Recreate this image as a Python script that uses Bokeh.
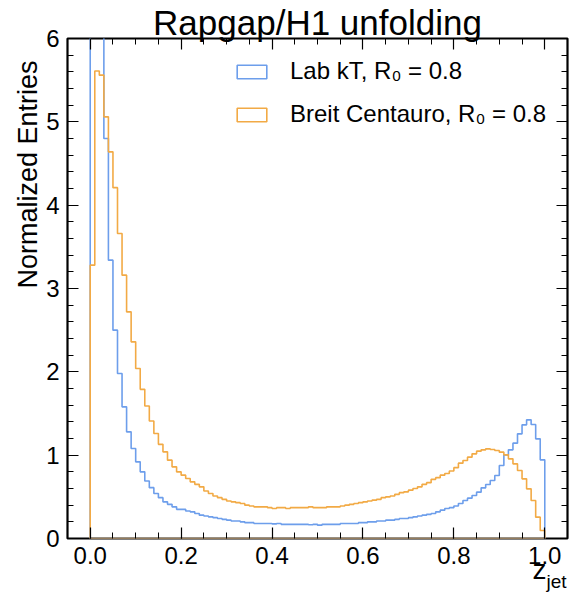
import numpy as np
from bokeh.plotting import figure
from bokeh.models import (Range1d, LinearAxis, SingleIntervalTicker, NumeralTickFormatter,
                          CustomJSTickFormatter, Legend, LegendItem, Title)
from bokeh.embed import file_html
from bokeh.resources import INLINE

# ---- data ----
bin_lo, bin_hi, n_bins = 0.0, 1.0, 100

lab_kt = [9.0, 8.0, 7.0, 4.80, 3.34, 2.50, 1.98, 1.58, 1.28, 1.08,
          0.92, 0.80, 0.69, 0.61, 0.54, 0.49, 0.44, 0.41, 0.38, 0.35,
          0.35, 0.33, 0.32, 0.30, 0.28, 0.27, 0.26, 0.25, 0.24, 0.23,
          0.22, 0.21, 0.21, 0.20, 0.19, 0.19, 0.18, 0.18, 0.18, 0.18,
          0.175, 0.18, 0.17, 0.17, 0.17, 0.17, 0.17, 0.17, 0.165, 0.17,
          0.16, 0.17, 0.17, 0.17, 0.17, 0.18, 0.18, 0.18, 0.18, 0.19,
          0.19, 0.20, 0.20, 0.21, 0.21, 0.22, 0.22, 0.23, 0.24, 0.24,
          0.25, 0.26, 0.27, 0.28, 0.29, 0.30, 0.32, 0.34, 0.36, 0.37,
          0.39, 0.42, 0.456, 0.484, 0.516, 0.556, 0.608, 0.648, 0.696, 0.756,
          0.876, 1.004, 1.064, 1.144, 1.256, 1.364, 1.424, 1.368, 1.196, 0.944]

breit_centauro = [3.28, 5.61, 5.56, 5.06, 4.64, 4.21, 3.66, 3.16, 2.72, 2.36,
                  2.04, 1.79, 1.59, 1.41, 1.26, 1.13, 1.04, 0.94, 0.86, 0.80,
                  0.76, 0.72, 0.68, 0.65, 0.62, 0.57, 0.54, 0.51, 0.49, 0.47,
                  0.45, 0.44, 0.43, 0.42, 0.40, 0.39, 0.38, 0.38, 0.38, 0.37,
                  0.36, 0.37, 0.37, 0.36, 0.37, 0.37, 0.37, 0.37, 0.38, 0.37,
                  0.37, 0.37, 0.38, 0.38, 0.38, 0.39, 0.40, 0.41, 0.42, 0.43,
                  0.44, 0.45, 0.46, 0.47, 0.49, 0.50, 0.51, 0.53, 0.55, 0.56,
                  0.58, 0.60, 0.62, 0.65, 0.67, 0.71, 0.73, 0.76, 0.78, 0.81,
                  0.85, 0.904, 0.936, 0.976, 1.016, 1.048, 1.064, 1.076, 1.068, 1.056,
                  1.036, 1.004, 0.956, 0.896, 0.816, 0.716, 0.596, 0.456, 0.256, 0.096]

labels = ["Lab kT, R\u2080 = 0.8", "Breit Centauro, R\u2080 = 0.8"]
colors = ["#6d9eeb", "#f2aa45"]
title_text = "Rapgap/H1 unfolding"
y_label = "Normalized Entries"
x_label_main, x_label_sub = "z", "jet"

FONT = "Liberation Sans"
X_LO, X_HI, Y_LO, Y_HI = -0.05, 1.05, 0.0, 6.0

edges = np.linspace(bin_lo, bin_hi, n_bins + 1)


def outline(vals):
    xs = np.repeat(edges, 2)
    ys = np.concatenate([[0.0], np.repeat(np.asarray(vals, float), 2), [0.0]])
    return xs, ys


p = figure(width=571, height=598, output_backend="svg", toolbar_location=None,
           x_range=Range1d(X_LO, X_HI), y_range=Range1d(Y_LO, Y_HI),
           min_border_left=67, min_border_right=4, min_border_top=38, min_border_bottom=60)
p.background_fill_color = "white"
p.border_fill_color = "white"
p.xgrid.visible = False
p.ygrid.visible = False
p.outline_line_color = "black"
p.outline_line_width = 2.2
p.outline_line_alpha = 1.0

p.title.text = title_text
p.title.text_font = FONT
p.title.text_font_size = "35px"
p.title.text_font_style = "normal"
p.title.text_color = "black"
p.title.align = "center"
p.title.standoff = -6
p.title.offset = 0

xt = SingleIntervalTicker(interval=0.2, num_minor_ticks=4)
yt = SingleIntervalTicker(interval=1, num_minor_ticks=5)

p.xaxis.ticker = xt
p.yaxis.ticker = yt
p.xaxis.formatter = NumeralTickFormatter(format="0.0")
blank = CustomJSTickFormatter(code="return ''")
top_ax = LinearAxis(ticker=xt, formatter=blank, fixed_location=Y_HI)
right_ax = LinearAxis(ticker=yt, formatter=blank, fixed_location=X_HI)
p.add_layout(top_ax, "above")
p.add_layout(right_ax, "right")

for ax in p.axis:
    ax.axis_line_color = None
    ax.major_tick_in = 11
    ax.major_tick_out = 0
    ax.minor_tick_in = 6
    ax.minor_tick_out = 0
    ax.major_tick_line_color = "black"
    ax.minor_tick_line_color = "black"
    ax.major_tick_line_width = 1.2
    ax.minor_tick_line_width = 1.0
    ax.major_label_text_font = FONT
    ax.major_label_text_font_size = "24px"
    ax.major_label_text_color = "black"
    ax.major_label_standoff = 8

for ax in (top_ax, right_ax):
    ax.major_label_text_font_size = "1px"
    ax.major_label_standoff = 0

renderers = []
for vals, c in zip([lab_kt, breit_centauro], colors):
    xs, ys = outline(vals)
    r = p.patch(xs, ys, fill_color=None, fill_alpha=0, line_color=c, line_width=1.6)
    renderers.append(r)

legend = Legend(items=[LegendItem(label=l, renderers=[r]) for l, r in zip(labels, renderers)],
                location=(166, 410))
legend.border_line_color = None
legend.background_fill_alpha = 0
legend.glyph_width = 37
legend.glyph_height = 17
legend.label_text_font = FONT
legend.label_text_font_size = "24px"
legend.label_text_color = "black"
legend.label_standoff = 20
legend.spacing = 15
legend.padding = 0
legend.margin = 0
p.add_layout(legend, "center")

# y-axis label, aligned to the top end of the axis
ytitle = Title(text=y_label, align="right", text_font=FONT, text_font_size="27px",
               text_font_style="normal", text_color="black", standoff=2, offset=22)
p.add_layout(ytitle, "left")

# x-axis label z_jet at the right end, below the tick labels
zt = Title(text=x_label_main, align="right", vertical_align="top", text_font=FONT,
           text_font_size="28px", text_font_style="normal", text_color="black",
           standoff=-25, offset=21)
jt = Title(text=x_label_sub, align="right", vertical_align="top", text_font=FONT,
           text_font_size="19px", text_font_style="normal", text_color="black",
           standoff=-7, offset=1)
p.add_layout(zt, "below")
p.add_layout(jt, "below")

open("out.html", "w").write(file_html(p, INLINE))
